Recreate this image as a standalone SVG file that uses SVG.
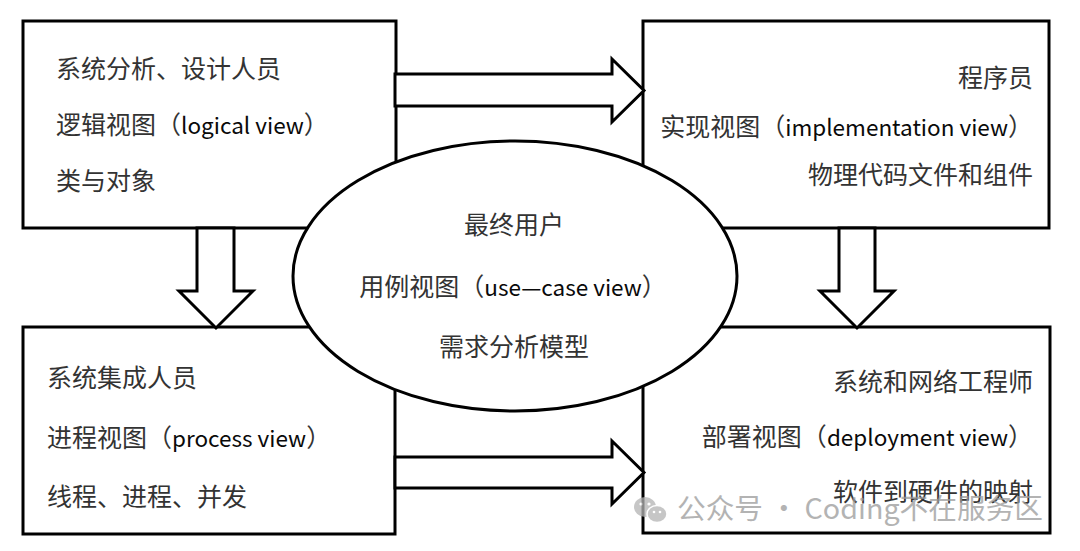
<svg xmlns="http://www.w3.org/2000/svg" width="1080" height="551" viewBox="0 0 1080 551">
  <style>
    .box { fill: #ffffff; stroke: #000000; stroke-width: 3; }
    .arrow { fill: #ffffff; stroke: #000000; stroke-width: 3; stroke-linejoin: miter; }
    .t { font-family: "Noto Sans CJK SC", "Noto Sans", sans-serif; font-size: 25px; fill: #333333; }
    .lat { fill: #0a0a0a; font-size: 22.5px; }
    .end { text-anchor: end; }
    .mid { text-anchor: middle; }
    .wm { font-family: "Noto Sans CJK SC", "Noto Sans", sans-serif; font-size: 28px; fill: #9a9a9a; }
  </style>
  <rect x="0" y="0" width="1080" height="551" fill="#ffffff"/>

  <g id="logical-view">
    <rect class="box" x="23" y="21" width="373" height="207"/>
    <text class="t" x="56" y="78">系统分析、设计人员</text>
    <text class="t" x="56" y="134">逻辑视图（<tspan class="lat">logical view</tspan>）</text>
    <text class="t" x="56" y="190">类与对象</text>
  </g>

  <g id="implementation-view">
    <rect class="box" x="643" y="21" width="406" height="207"/>
    <text class="t end" x="1033" y="87">程序员</text>
    <text class="t end" x="1033" y="136">实现视图（<tspan class="lat">implementation view</tspan>）</text>
    <text class="t end" x="1033" y="184">物理代码文件和组件</text>
  </g>

  <g id="process-view">
    <rect class="box" x="23" y="327" width="372" height="207"/>
    <text class="t" x="47" y="387">系统集成人员</text>
    <text class="t" x="47" y="447">进程视图（<tspan class="lat">process view</tspan>）</text>
    <text class="t" x="47" y="506">线程、进程、并发</text>
  </g>

  <g id="deployment-view">
    <rect class="box" x="643" y="327" width="407" height="206"/>
    <text class="t end" x="1033" y="391">系统和网络工程师</text>
    <text class="t end" x="1033" y="446">部署视图（<tspan class="lat">deployment view</tspan>）</text>
    <text class="t end" x="1033" y="501">软件到硬件的映射</text>
  </g>

  <g id="connectors">
    <polygon class="arrow" points="395,74 612,74 612,59 644,90.5 612,122 612,106 395,106"/>
    <polygon class="arrow" points="395,457 612,457 612,441 644,472.5 612,504 612,488 395,488"/>
    <polygon class="arrow" points="197,228 197,291 179,291 216,328 253,291 234,291 234,228"/>
    <polygon class="arrow" points="839,228 839,291 820,291 857,328 894,291 875,291 875,228"/>
  </g>

  <g id="use-case-view">
    <ellipse class="box" cx="515" cy="276" rx="222" ry="135"/>
    <text class="t mid" x="514" y="234">最终用户</text>
    <text class="t mid" x="513" y="296">用例视图（<tspan class="lat">use—case view</tspan>）</text>
    <text class="t mid" x="514" y="356">需求分析模型</text>
  </g>

  <g id="watermark" opacity="0.75">
    <ellipse cx="645" cy="507" rx="11" ry="10" fill="#b4b4b4"/>
    <ellipse cx="657" cy="514" rx="10" ry="8.5" fill="#b4b4b4" stroke="#ffffff" stroke-width="1.5"/>
    <circle cx="641" cy="504" r="1.6" fill="#ffffff"/>
    <circle cx="649" cy="504" r="1.6" fill="#ffffff"/>
    <circle cx="654" cy="512" r="1.3" fill="#ffffff"/>
    <circle cx="660" cy="512" r="1.3" fill="#ffffff"/>
    <text class="wm" x="677" y="519" textLength="366" lengthAdjust="spacingAndGlyphs">公众号 · Coding不在服务区</text>
  </g>
</svg>
